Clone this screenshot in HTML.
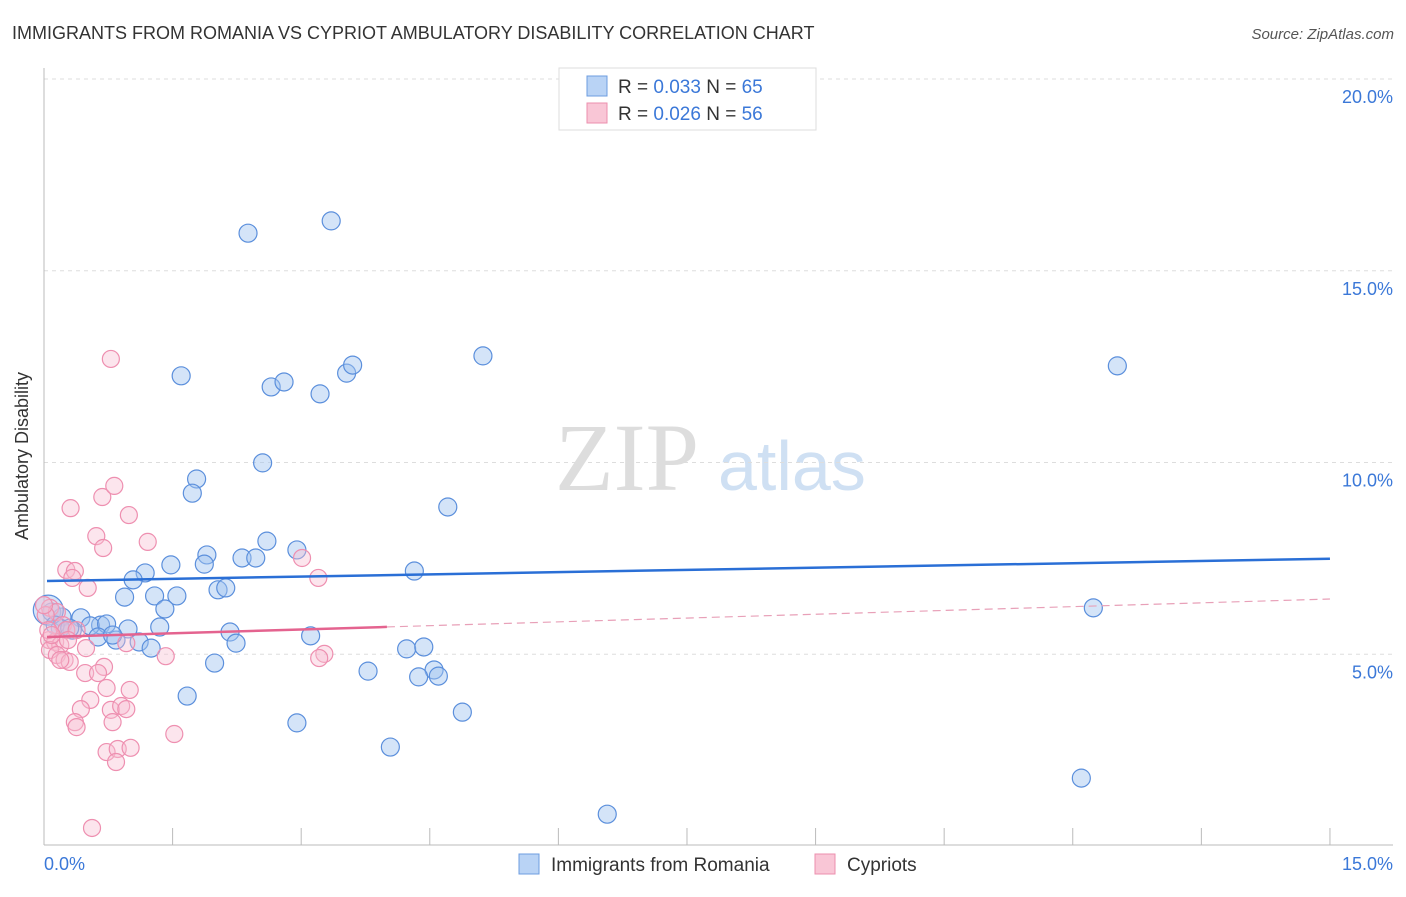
<!DOCTYPE html>
<html><head><meta charset="utf-8"><style>
body{margin:0;background:#fff;font-family:"Liberation Sans",sans-serif}
</style></head><body>
<svg width="1406" height="892" xmlns="http://www.w3.org/2000/svg" font-family="Liberation Sans, sans-serif">
<text x="12" y="39" font-size="18" fill="#333">IMMIGRANTS FROM ROMANIA VS CYPRIOT AMBULATORY DISABILITY CORRELATION CHART</text>
<text x="1394" y="39" font-size="15" fill="#555" font-style="italic" text-anchor="end">Source: ZipAtlas.com</text>
<text x="555" y="490" font-size="96" fill="#ddd" font-family="Liberation Serif, serif">ZIP</text>
<text x="718" y="490" font-size="70" fill="#cfe0f3">atlas</text>
<g id="grid"></g>
<line x1="44" y1="68" x2="44" y2="845" stroke="#bbb"/>
<line x1="44" y1="845" x2="1393" y2="845" stroke="#bbb"/>
<g id="xticks"></g>
<text x="28" y="456" font-size="18" fill="#333" transform="rotate(-90 28 456)" text-anchor="middle">Ambulatory Disability</text>
<text x="44" y="870" font-size="18" fill="#3b78d8">0.0%</text>
<text x="1393" y="870" font-size="18" fill="#3b78d8" text-anchor="end">15.0%</text>
<g id="pts"></g>
<g id="trend"></g>
<g>
<rect x="559" y="68" width="257" height="62" fill="#fff" stroke="#ddd"/>
<rect x="587" y="76" width="20" height="20" fill="#b9d3f5" stroke="#6d9de0"/>
<rect x="587" y="103" width="20" height="20" fill="#f9c6d6" stroke="#ec8fae"/>
<text x="618" y="93" font-size="19" fill="#333">R = <tspan fill="#3b78d8">0.033</tspan>   N = <tspan fill="#3b78d8">65</tspan></text>
<text x="618" y="120" font-size="19" fill="#333">R = <tspan fill="#3b78d8">0.026</tspan>   N = <tspan fill="#3b78d8">56</tspan></text>
</g>
<g>
<rect x="519" y="854" width="20" height="20" fill="#b9d3f5" stroke="#6d9de0"/>
<text x="551" y="871" font-size="19" fill="#333">Immigrants from Romania</text>
<rect x="815" y="854" width="20" height="20" fill="#f9c6d6" stroke="#ec8fae"/>
<text x="847" y="871" font-size="19" fill="#333">Cypriots</text>
</g>
</svg>
<script>
const yTicks=[5,10,15,20];
const yTickLabels=["5.0%","10.0%","15.0%","20.0%"];
const xTicks=[1.5,3,4.5,6,7.5,9,10.5,12,13.5,15];
const bluePx=[[248,233],[331,221],[181,376],[271,387],[284,382],[320,394],[347,373],[353,365],[483,356],[1117,366],[263,463],[197,479],[192,493],[448,507],[267,541],[297,550],[207,555],[242,558],[256,558],[171,565],[204,564],[414,571],[145,573],[133,580],[218,590],[226,588],[125,597],[155,596],[177,596],[165,609],[1093,608],[52,612],[62,617],[81,618],[101,625],[90,626],[107,624],[128,629],[160,627],[72,630],[60,628],[98,637],[116,640],[139,642],[151,648],[230,632],[236,643],[311,636],[407,649],[424,647],[215,663],[368,671],[434,670],[438,676],[419,677],[187,696],[462,712],[297,723],[390,747],[1081,778],[607,814],[48,610],[55,625],[70,628],[113,635]];
const pinkPx=[[111,359],[71,508],[102,497],[114,486],[129,515],[148,542],[96,536],[103,548],[302,558],[66,570],[75,571],[72,578],[88,588],[318,578],[50,608],[57,612],[46,615],[63,625],[66,630],[77,630],[49,640],[55,642],[60,645],[50,650],[57,655],[65,660],[70,662],[86,648],[126,643],[166,656],[324,654],[319,658],[104,667],[85,673],[98,673],[107,688],[130,690],[90,700],[81,709],[111,710],[121,706],[126,709],[113,722],[75,722],[77,727],[174,734],[107,752],[118,749],[131,748],[116,762],[92,828],[44,605],[48,630],[52,635],[60,660],[68,640]];
// data values (x %, y %)
const blueX=bluePx.map(p=>+((p[0]-44)/85.73).toFixed(2));
const blueY=bluePx.map(p=>+((846-p[1])/38.35).toFixed(2));
const pinkX=pinkPx.map(p=>+((p[0]-44)/85.73).toFixed(2));
const pinkY=pinkPx.map(p=>+((846-p[1])/38.35).toFixed(2));
const blueTrend=[6.91,7.49];
const pinkTrend=[5.45,6.44];
const pinkSolidEnd=4.0;
const NS="http://www.w3.org/2000/svg";
const sx=v=>44+v*85.73, sy=v=>846-v*38.35;
function mk(tag,a,parent){const e=document.createElementNS(NS,tag);for(const k in a)e.setAttribute(k,a[k]);document.getElementById(parent).appendChild(e);return e;}
yTicks.forEach((t,i)=>{
 const l=mk('line',{x1:44,x2:1393,y1:sy(t),y2:sy(t),stroke:'#ddd','stroke-dasharray':'4 4'},'grid');
 
 
 const tx=mk('text',{x:1393,y:sy(t)+24,'font-size':18,fill:'#3b78d8','text-anchor':'end'},'grid');
 tx.textContent=yTickLabels[i];
 
 
});
xTicks.forEach(t=>{
 const l=mk('line',{x1:sx(t),x2:sx(t),y1:828,y2:845,stroke:'#bbb'},'xticks');
 
 
});
blueX.forEach((x,i)=>{
 const c=mk('circle',{cx:sx(x),cy:sy(blueY[i]),r:(i==61?15:9),fill:'rgba(160,195,240,0.45)',stroke:'#5b8fdc','stroke-width':1.2},'pts');
 
 
});
pinkX.forEach((x,i)=>{
 const c=mk('circle',{cx:sx(x),cy:sy(pinkY[i]),r:8.5,fill:'rgba(248,190,210,0.4)',stroke:'#ee8fb0','stroke-width':1.2},'pts');
 
 
});
const xmin=0.035,xmax=15;
const bl=mk('line',{x1:sx(xmin),x2:sx(xmax),y1:sy(blueTrend[0]),y2:sy(blueTrend[1]),stroke:'#2a6fd6','stroke-width':2.5},'trend');


const pAt=x=>pinkTrend[0]+(pinkTrend[1]-pinkTrend[0])*(x-xmin)/(xmax-xmin);
const pd=mk('line',{x1:sx(pinkSolidEnd),x2:sx(xmax),y1:sy(pAt(pinkSolidEnd)),y2:sy(pinkTrend[1]),stroke:'#e8a0b8','stroke-width':1.2,'stroke-dasharray':'8 5'},'trend');


const ps=mk('line',{x1:sx(xmin),x2:sx(pinkSolidEnd),y1:sy(pinkTrend[0]),y2:sy(pAt(pinkSolidEnd)),stroke:'#e4638f','stroke-width':2.5},'trend');


</script>
</body></html>
